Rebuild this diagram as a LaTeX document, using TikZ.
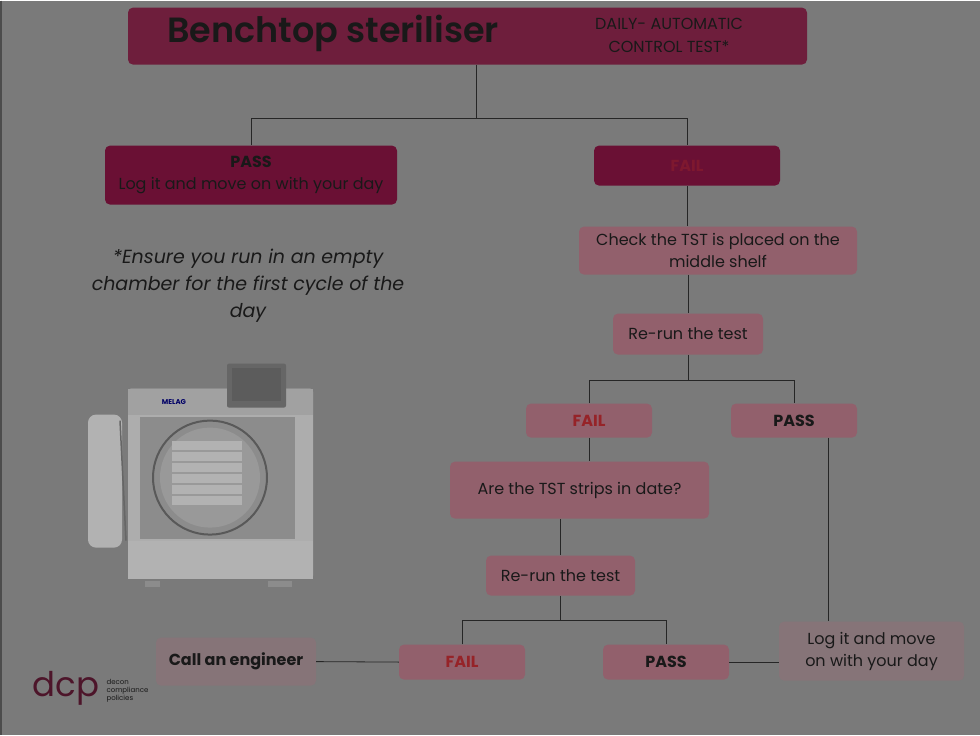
\documentclass[tikz,border=0pt]{standalone}
\usepackage{fontspec}
\setmainfont{Poppins}
\usetikzlibrary{positioning}
\definecolor{bg}{RGB}{122,122,122}
\definecolor{titlefill}{RGB}{110,30,60}
\definecolor{darkfill}{RGB}{106,16,52}
\definecolor{midfill}{RGB}{146,96,108}
\definecolor{palefill}{RGB}{134,116,120}
\definecolor{txt}{RGB}{25,25,25}
\definecolor{failred}{RGB}{150,35,40}
\begin{document}
\begin{tikzpicture}[x=1pt, y=-1pt,
    box/.style={draw=none, rounded corners=5pt, inner sep=0pt, align=center, text=txt, font=\fontsize{16}{22}\selectfont},
    dark/.style={box, fill=darkfill},
    mid/.style={box, fill=midfill},
    pale/.style={box, fill=palefill},
    link/.style={draw=black!85, line width=0.8pt}]
\fill[bg] (0,0) rectangle (980,734);
\draw[black!70, line width=1.2pt] (1,0) -- (1,734);
% title
\node[box, fill=titlefill, minimum width=679pt, minimum height=57pt] (title) at (467.5,35.5) {};
\node[text=txt, font=\fontsize{35}{40}\selectfont\fontspec{Poppins SemiBold}] at (333,33) {Benchtop steriliser};
\node[text=txt, align=center, font=\fontsize{16}{23}\selectfont] at (669,35) {DAILY- AUTOMATIC\\CONTROL TEST*};
% first level
\node[dark, minimum width=292pt, minimum height=59pt] (pass1) at (251,174.5) {\textbf{PASS}\\Log it and move on with your day};
\node[dark, minimum width=186pt, minimum height=40pt, text=failred!45!darkfill] (fail1) at (687,165) {\textbf{FAIL}};
\node[mid, minimum width=278pt, minimum height=48pt] (check) at (718,250) {Check the TST is placed on the\\middle shelf};
\node[mid, minimum width=150pt, minimum height=41pt] (rerun1) at (688,333.5) {Re-run the test};
\node[mid, minimum width=126pt, minimum height=34pt, text=failred] (fail2) at (589,420) {\textbf{FAIL}};
\node[mid, minimum width=126pt, minimum height=34pt] (pass2) at (794,420) {\textbf{PASS}};
\node[mid, minimum width=259pt, minimum height=57pt] (strips) at (579.5,489.5) {Are the TST strips in date?};
\node[mid, minimum width=149pt, minimum height=40pt] (rerun2) at (560.5,575) {Re-run the test};
\node[mid, minimum width=126pt, minimum height=35pt, text=failred] (fail3) at (462,661.5) {\textbf{FAIL}};
\node[mid, minimum width=126pt, minimum height=35pt] (pass3) at (666,661.5) {\textbf{PASS}};
\node[pale, minimum width=160pt, minimum height=48pt] (engineer) at (236,661) {\textbf{Call an engineer}};
\node[pale, minimum width=185pt, minimum height=59pt] (logit) at (871.5,650.5) {Log it and move\\on with your day};
% connectors
\coordinate (j1) at (476,118);
\draw[link] (title.south -| j1) -- (j1);
\draw[link] (pass1.north) |- (j1) -| (fail1.north);
\draw[link] (fail1.south) -- (fail1.south |- check.north);
\draw[link] (check.south -| rerun1) -- (rerun1.north);
\coordinate (j2) at (688,380);
\draw[link] (rerun1.south) -- (j2);
\draw[link] (fail2.north) |- (j2) -| (pass2.north);
\draw[link] (fail2.south) -- (fail2.south |- strips.north);
\draw[link] (strips.south -| rerun2) -- (rerun2.north);
\coordinate (j3) at (560.5,620);
\draw[link] (rerun2.south) -- (j3);
\draw[link] (fail3.north) |- (j3) -| (pass3.north);
\draw[link] (engineer.east) -- (fail3.west);
\draw[link] (pass3.east) -- (pass3.east -| logit.west);
\draw[link] (pass2.south -| 828,0) -- (logit.north -| 828,0);
% note
\node[text=txt, align=center, font=\fontsize{19}{27}\selectfont\itshape] (note) at (248,285) {*Ensure you run in an empty\\chamber for the first cycle of the\\day};
% steriliser picture
\fill[black!32, rounded corners=3pt] (128,388) rectangle (313,578);
\fill[black!37] (128,388) rectangle (313,414);
\fill[black!45] (140,416) rectangle (295,538);
\fill[black!30] (128,540) rectangle (313,578);
\fill[black!60, rounded corners=2pt] (227,363) rectangle (286,407);
\fill[black!25!bg] (232,367) rectangle (281,400);
\draw[black!65, line width=2pt] (210,477) circle (57);
\fill[black!40] (210,477) circle (50);
\foreach \k in {0,...,5} {\fill[black!30] (172,440+\k*11) rectangle (242,449+\k*11);}
\fill[black!30, rounded corners=8pt] (88,414) rectangle (122,547);
\draw[black!60, line width=1.5pt] (120,420) -- (126,540);
\fill[black!45] (145,580) rectangle (160,586);
\fill[black!45] (268,580) rectangle (292,586);
\node[text=blue!40!black, font=\fontsize{7}{8}\selectfont\bfseries] (brand) at (174,401) {MELAG};
% logo
\node[text=titlefill!70!black, font=\fontsize{34}{34}\selectfont] (logo) at (66,688) {dcp};
\node[text=txt, align=left, font=\fontsize{7}{8}\selectfont, anchor=west] (logotext) at (103,690) {decon\\compliance\\policies};
\end{tikzpicture}
\end{document}
